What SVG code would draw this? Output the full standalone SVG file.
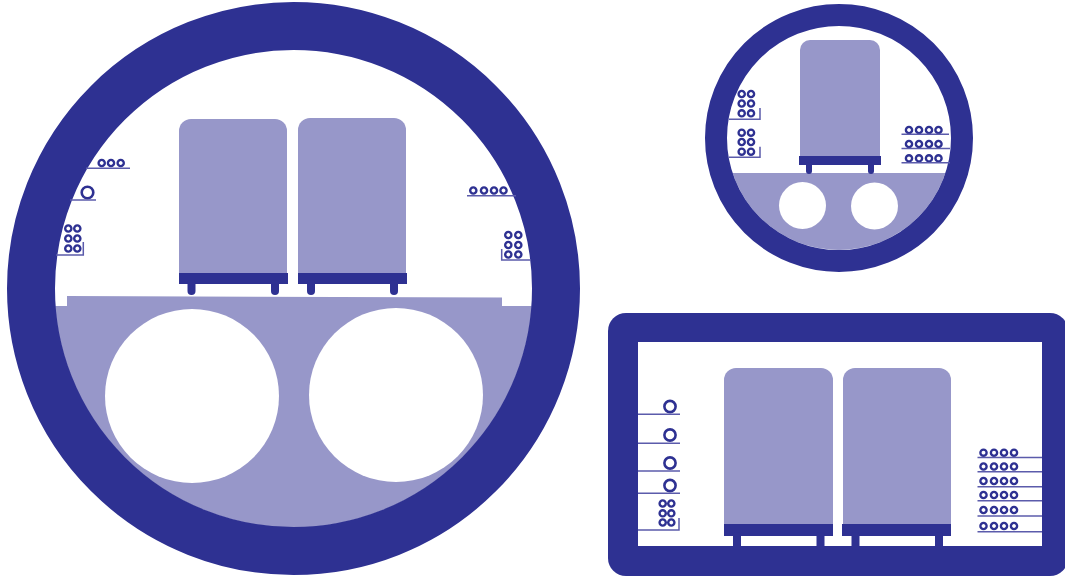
<svg xmlns="http://www.w3.org/2000/svg" width="1065" height="578" viewBox="0 0 1065 578">
  <defs>
    <style>
      .navy { fill: #2e3192; }
      .lav { fill: #9797c9; }
      .white { fill: #ffffff; }
      .ring { fill: none; stroke: #2e3192; }
      .cable { fill: none; stroke: #2e3192; stroke-width: 2.4; }
      .cable-l { fill: none; stroke: #2e3192; stroke-width: 2.6; }
      .shelf { fill: none; stroke: #5b5bab; stroke-width: 1.5; }
      .leg { stroke: #2e3192; stroke-width: 8; stroke-linecap: round; }
      .leg-s { stroke: #2e3192; stroke-width: 6; stroke-linecap: round; }
    </style>
    <clipPath id="bigInner">
      <circle cx="293.5" cy="288.5" r="239"/>
    </clipPath>
    <clipPath id="smallInner">
      <circle cx="839" cy="138" r="112"/>
    </clipPath>
    <g id="c3">
      <circle class="cable" cx="0" cy="0" r="3.1"/>
    </g>
  </defs>

  <!-- Large circular bored tunnel with twin trains -->
  <g id="big-tunnel">
    <circle class="white" cx="293.5" cy="288.5" r="239"/>
    <g clip-path="url(#bigInner)">
      <path class="lav" d="M0,306 H67 V296 L502,297.5 V306 H600 V600 H0 Z"/>
    </g>
    <circle class="white" cx="192" cy="396" r="87"/>
    <circle class="white" cx="396" cy="395" r="87"/>
    <circle class="ring" cx="293.5" cy="288.5" r="262.5" stroke-width="48"/>
  </g>

  <g id="big-train-left">
    <path class="lav" d="M179,273 V131 a12,12 0 0 1 12,-12 H275 a12,12 0 0 1 12,12 V273 Z"/>
    <rect class="navy" x="179" y="273" width="109" height="11"/>
    <line class="leg" x1="191.5" y1="284" x2="191.5" y2="291"/>
    <line class="leg" x1="275" y1="284" x2="275" y2="291"/>
  </g>
  <g id="big-train-right">
    <path class="lav" d="M298,273 V130 a12,12 0 0 1 12,-12 H394 a12,12 0 0 1 12,12 V273 Z"/>
    <rect class="navy" x="298" y="273" width="109" height="11"/>
    <line class="leg" x1="311" y1="284" x2="311" y2="291"/>
    <line class="leg" x1="394" y1="284" x2="394" y2="291"/>
  </g>

  <g id="big-cables-left">
    <use href="#c3" x="101.7" y="163"/>
    <use href="#c3" x="111" y="163"/>
    <use href="#c3" x="120.7" y="163"/>
    <line class="shelf" x1="86" y1="168.3" x2="130" y2="168.3"/>
    <circle class="cable-l" cx="87.5" cy="192.5" r="5.8"/>
    <line class="shelf" x1="70" y1="200" x2="96" y2="200"/>
    <use href="#c3" x="68.3" y="228.5"/>
    <use href="#c3" x="77.3" y="228.5"/>
    <use href="#c3" x="68.3" y="238.5"/>
    <use href="#c3" x="77.3" y="238.5"/>
    <use href="#c3" x="68.3" y="248.5"/>
    <use href="#c3" x="77.3" y="248.5"/>
    <polyline class="shelf" points="56,255 83.3,255 83.3,242"/>
  </g>
  <g id="big-cables-right">
    <use href="#c3" x="473.3" y="190.5"/>
    <use href="#c3" x="484" y="190.5"/>
    <use href="#c3" x="494" y="190.5"/>
    <use href="#c3" x="503.5" y="190.5"/>
    <line class="shelf" x1="467" y1="195.7" x2="516" y2="195.7"/>
    <use href="#c3" x="508.3" y="235"/>
    <use href="#c3" x="518.3" y="235"/>
    <use href="#c3" x="508.3" y="245"/>
    <use href="#c3" x="518.3" y="245"/>
    <use href="#c3" x="508.3" y="254.5"/>
    <use href="#c3" x="518.3" y="254.5"/>
    <polyline class="shelf" points="501.7,249 501.7,260 531,260"/>
  </g>

  <!-- Small circular tunnel with single train -->
  <g id="small-tunnel">
    <circle class="white" cx="839" cy="138" r="112"/>
    <g clip-path="url(#smallInner)">
      <rect class="lav" x="720" y="173" width="240" height="90"/>
    </g>
    <circle class="white" cx="802.5" cy="205.5" r="23.5"/>
    <circle class="white" cx="874.5" cy="206" r="23.5"/>
    <circle class="ring" cx="839" cy="138" r="123" stroke-width="22"/>
  </g>

  <g id="small-train">
    <path class="lav" d="M800,156 V50 a10,10 0 0 1 10,-10 H870 a10,10 0 0 1 10,10 V156 Z"/>
    <rect class="navy" x="799" y="156" width="82" height="9"/>
    <line class="leg-s" x1="809" y1="165" x2="809" y2="171"/>
    <line class="leg-s" x1="871" y1="165" x2="871" y2="171"/>
  </g>

  <g id="small-cables-left">
    <use href="#c3" x="741.7" y="94"/>
    <use href="#c3" x="751" y="94"/>
    <use href="#c3" x="741.7" y="103.5"/>
    <use href="#c3" x="751" y="103.5"/>
    <use href="#c3" x="741.7" y="113.3"/>
    <use href="#c3" x="751" y="113.3"/>
    <polyline class="shelf" points="729,119.3 760,119.3 760,108"/>
    <use href="#c3" x="741.7" y="132.7"/>
    <use href="#c3" x="751" y="132.7"/>
    <use href="#c3" x="741.7" y="142"/>
    <use href="#c3" x="751" y="142"/>
    <use href="#c3" x="741.7" y="151.7"/>
    <use href="#c3" x="751" y="151.7"/>
    <polyline class="shelf" points="729,157.3 760,157.3 760,146.7"/>
  </g>
  <g id="small-cables-right">
    <use href="#c3" x="909" y="130"/>
    <use href="#c3" x="919" y="130"/>
    <use href="#c3" x="929" y="130"/>
    <use href="#c3" x="938.5" y="130"/>
    <line class="shelf" x1="901.5" y1="134.3" x2="949" y2="134.3"/>
    <use href="#c3" x="909" y="144"/>
    <use href="#c3" x="919" y="144"/>
    <use href="#c3" x="929" y="144"/>
    <use href="#c3" x="938.5" y="144"/>
    <line class="shelf" x1="901.5" y1="148.5" x2="950" y2="148.5"/>
    <use href="#c3" x="909" y="158.3"/>
    <use href="#c3" x="919" y="158.3"/>
    <use href="#c3" x="929" y="158.3"/>
    <use href="#c3" x="938.5" y="158.3"/>
    <line class="shelf" x1="901.5" y1="162.7" x2="950" y2="162.7"/>
  </g>

  <!-- Rectangular cut-and-cover box -->
  <g id="box-tunnel">
    <rect class="navy" x="608" y="313" width="460" height="263" rx="18"/>
    <rect class="white" x="638" y="342" width="404" height="204"/>
  </g>

  <g id="box-train-left">
    <path class="lav" d="M724,524 V380 a12,12 0 0 1 12,-12 H821 a12,12 0 0 1 12,12 V524 Z"/>
    <rect class="navy" x="724" y="524" width="109" height="12"/>
    <line class="leg" x1="737" y1="536" x2="737" y2="546"/>
    <line class="leg" x1="820.5" y1="536" x2="820.5" y2="546"/>
  </g>
  <g id="box-train-right">
    <path class="lav" d="M843,524 V380 a12,12 0 0 1 12,-12 H939 a12,12 0 0 1 12,12 V524 Z"/>
    <rect class="navy" x="842" y="524" width="109" height="12"/>
    <line class="leg" x1="855.5" y1="536" x2="855.5" y2="546"/>
    <line class="leg" x1="939" y1="536" x2="939" y2="546"/>
  </g>

  <g id="box-cables-left">
    <circle class="cable-l" cx="670" cy="406.5" r="5.6"/>
    <line class="shelf" x1="638" y1="414.3" x2="680" y2="414.3"/>
    <circle class="cable-l" cx="670" cy="435" r="5.6"/>
    <line class="shelf" x1="638" y1="443.3" x2="680" y2="443.3"/>
    <circle class="cable-l" cx="670" cy="463" r="5.6"/>
    <line class="shelf" x1="638" y1="471" x2="680" y2="471"/>
    <circle class="cable-l" cx="670" cy="485.5" r="5.6"/>
    <line class="shelf" x1="638" y1="493.3" x2="680" y2="493.3"/>
    <use href="#c3" x="662.7" y="503.5"/>
    <use href="#c3" x="671.3" y="503.5"/>
    <use href="#c3" x="662.7" y="513.3"/>
    <use href="#c3" x="671.3" y="513.3"/>
    <use href="#c3" x="662.7" y="522.5"/>
    <use href="#c3" x="671.3" y="522.5"/>
    <polyline class="shelf" points="638,530 679,530 679,518"/>
  </g>
  <g id="box-cables-right">
    <use href="#c3" x="983.5" y="452.7"/>
    <use href="#c3" x="994" y="452.7"/>
    <use href="#c3" x="1004" y="452.7"/>
    <use href="#c3" x="1014" y="452.7"/>
    <line class="shelf" x1="977.5" y1="457.5" x2="1042" y2="457.5"/>
    <use href="#c3" x="983.5" y="466.5"/>
    <use href="#c3" x="994" y="466.5"/>
    <use href="#c3" x="1004" y="466.5"/>
    <use href="#c3" x="1014" y="466.5"/>
    <line class="shelf" x1="977.5" y1="471.7" x2="1042" y2="471.7"/>
    <use href="#c3" x="983.5" y="481"/>
    <use href="#c3" x="994" y="481"/>
    <use href="#c3" x="1004" y="481"/>
    <use href="#c3" x="1014" y="481"/>
    <line class="shelf" x1="977.5" y1="486.7" x2="1042" y2="486.7"/>
    <use href="#c3" x="983.5" y="495"/>
    <use href="#c3" x="994" y="495"/>
    <use href="#c3" x="1004" y="495"/>
    <use href="#c3" x="1014" y="495"/>
    <line class="shelf" x1="977.5" y1="500.7" x2="1042" y2="500.7"/>
    <use href="#c3" x="983.5" y="510"/>
    <use href="#c3" x="994" y="510"/>
    <use href="#c3" x="1004" y="510"/>
    <use href="#c3" x="1014" y="510"/>
    <line class="shelf" x1="977.5" y1="516" x2="1042" y2="516"/>
    <use href="#c3" x="983.5" y="526"/>
    <use href="#c3" x="994" y="526"/>
    <use href="#c3" x="1004" y="526"/>
    <use href="#c3" x="1014" y="526"/>
    <line class="shelf" x1="977.5" y1="531.7" x2="1042" y2="531.7"/>
  </g>
</svg>
